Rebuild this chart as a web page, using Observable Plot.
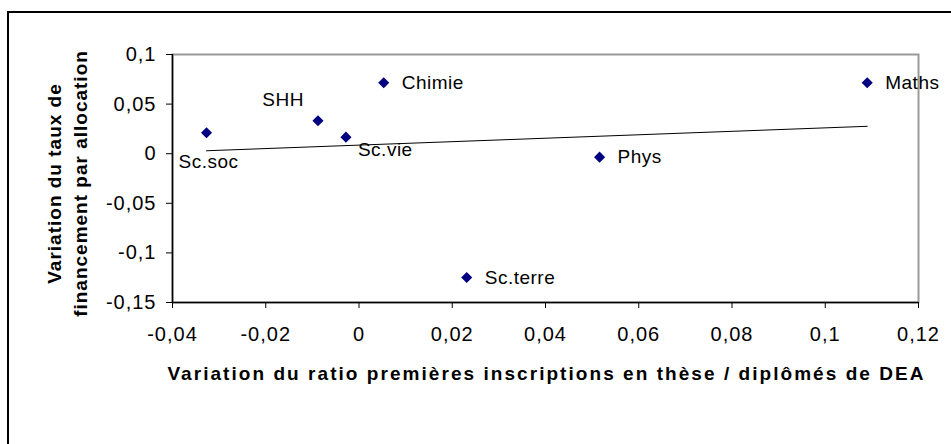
<!DOCTYPE html>
<html>
<head>
<meta charset="utf-8">
<script src="https://cdn.jsdelivr.net/npm/d3@7"></script>
<script src="https://cdn.jsdelivr.net/npm/@observablehq/plot@0.6"></script>
<style>
  html, body { margin: 0; padding: 0; background: #fff; }
  #wrap { position: relative; width: 951px; height: 444px; overflow: hidden; }
  #outer { position: absolute; left: 7px; top: 11px; width: 960px; height: 460px;
           border-left: 2px solid #000; border-top: 2px solid #000; pointer-events: none; }
  #wrap svg { position: absolute; left: 0; top: 0; }
</style>
</head>
<body>
<div id="wrap"><div id="outer"></div></div>
<script>
// ---- data ----
const names   = ["Sc.soc", "SHH", "Sc.vie", "Chimie", "Sc.terre", "Phys", "Maths"];
const xValues = [-0.0327, -0.0088, -0.0028, 0.0053, 0.0231, 0.0516, 0.1090];
const yValues = [0.0211, 0.0332, 0.0167, 0.0715, -0.1248, -0.0035, 0.0715];
const xTicks  = [-0.04, -0.02, 0, 0.02, 0.04, 0.06, 0.08, 0.1, 0.12];
const yTicks  = [-0.15, -0.1, -0.05, 0, 0.05, 0.1];
const xTitle  = "Variation du ratio premières inscriptions en thèse / diplômés de DEA";
const yTitle  = "Variation du taux de\nfinancement par allocation";

// label placement groups (style, not data)
const labelsRight      = ["Chimie", "Sc.terre", "Phys", "Maths"];
const labelsAboveLeft  = ["SHH"];
const labelsBelow      = ["Sc.soc"];
const labelsBelowRight = ["Sc.vie"];

const data = names.map((n, i) => ({name: n, x: xValues[i], y: yValues[i]}));
const fmt = d => String(Math.round(d * 100) / 100).replace(".", ",");
const pick = list => data.filter(d => list.includes(d.name));

const FONT = "'Liberation Sans', Arial, sans-serif";

const chart = Plot.plot({
  width: 951,
  height: 444,
  marginLeft: 172,
  marginTop: 54,
  marginRight: 33,
  marginBottom: 142,
  style: {fontFamily: FONT, fontSize: "19px", color: "#000", background: "transparent", overflow: "visible"},
  x: {domain: [xTicks[0], xTicks[xTicks.length - 1]], label: null},
  y: {domain: [yTicks[0], yTicks[yTicks.length - 1]], label: null},
  marks: [
    Plot.frame({stroke: "#9a9a9a", strokeWidth: 2}),
    Plot.ruleX([xTicks[0]], {stroke: "#000", strokeWidth: 1.5}),
    Plot.ruleY([yTicks[0]], {stroke: "#000", strokeWidth: 1.5}),
    Plot.axisX({ticks: xTicks, tickFormat: fmt, tickSize: 6, tickPadding: 18, label: null, stroke: "#000", fontSize: 20}),
    Plot.axisY({ticks: yTicks, tickFormat: fmt, tickSize: 6, tickPadding: 10, label: null, stroke: "#000", fontSize: 20}),
    Plot.linearRegressionY(data, {x: "x", y: "y", ci: 0, stroke: "#000", strokeWidth: 1}),
    Plot.dot(data, {x: "x", y: "y", symbol: "diamond2", r: 5, fill: "#000080", stroke: "none"}),
    Plot.text(pick(labelsRight), {x: "x", y: "y", text: "name", textAnchor: "start", dx: 18, dy: 0}),
    Plot.text(pick(labelsAboveLeft), {x: "x", y: "y", text: "name", textAnchor: "end", dx: -14, dy: -21}),
    Plot.text(pick(labelsBelow), {x: "x", y: "y", text: "name", textAnchor: "middle", dx: 2, dy: 29}),
    Plot.text(pick(labelsBelowRight), {x: "x", y: "y", text: "name", textAnchor: "start", dx: 12, dy: 13}),
    Plot.text([xTitle], {frameAnchor: "bottom", textAnchor: "middle", dx: 1, dy: 77, text: d => d, fontWeight: "bold", fontSize: 19}),
    Plot.text([yTitle], {frameAnchor: "left", textAnchor: "middle", dx: -107, dy: 5, rotate: -90, text: d => d, fontWeight: "bold", fontSize: 19, lineHeight: 1.35})
  ]
});

document.getElementById("wrap").appendChild(chart);
const s = d3.select(chart);
const texts = s.selectAll("text");
texts.filter(function() { return this.textContent === xTitle; }).style("letter-spacing", "2.05px");
texts.filter(function() { return this.textContent.startsWith("Variation du taux"); }).style("letter-spacing", "1px");
texts.filter(function() { return names.includes(this.textContent); }).style("letter-spacing", "0.5px");
s.selectAll('g[aria-label="x-axis tick label"] text, g[aria-label="y-axis tick label"] text').style("letter-spacing", "1px");
</script>
</body>
</html>
